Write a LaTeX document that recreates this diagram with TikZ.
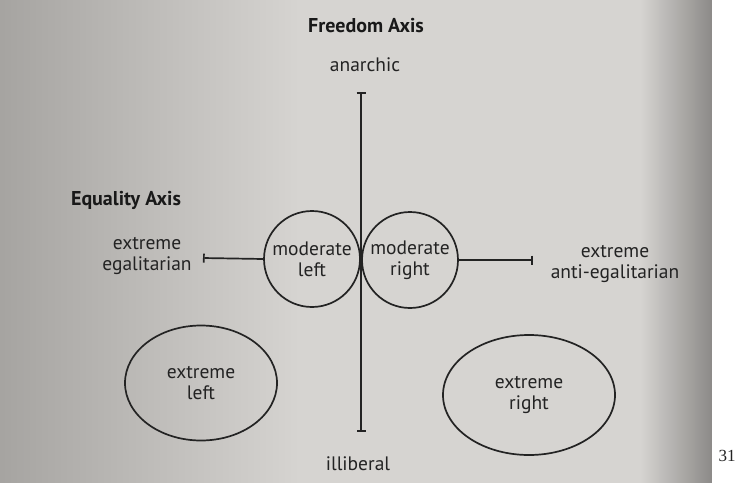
\documentclass[tikz,border=0pt]{standalone}
\usepackage{fontspec}
\setmainfont{PT Sans}
\newfontfamily\pagenumfont{Liberation Serif}
\usepackage{xcolor}
\usetikzlibrary{positioning,shapes.geometric,arrows.meta}

\definecolor{pagedark}{RGB}{165,163,160}
\definecolor{pagelight}{RGB}{214,212,209}
\definecolor{pageedge}{RGB}{140,138,136}
\definecolor{inkline}{RGB}{35,35,35}

\begin{document}
\begin{tikzpicture}[x=1pt,y=-1pt,
  every node/.style={font=\fontsize{19.5}{21}\selectfont,text=inkline,align=center,inner sep=0pt},
  axistitle/.style={font=\fontsize{20}{22}\selectfont\bfseries,text=black!90},
  modcircle/.style={draw=inkline,line width=1.7pt,circle,minimum size=96pt},
  extremeoval/.style={draw=inkline,line width=1.7pt,ellipse},
  axisline/.style={draw=inkline,line width=1.7pt}]
\useasboundingbox (0,0) rectangle (741,482);
% photographed page
\fill[pagelight] (-5,-5) rectangle (712,487);
\shade[left color=pagedark,right color=pagelight] (-5,-5) rectangle (300,487);
\shade[left color=pagelight,right color=pageedge] (640,-5) rectangle (712,487);
\fill[white] (712,-5) rectangle (746,487);
\node[font=\fontsize{17}{19}\pagenumfont] (pagenum) at (727,456) {31};

% freedom axis
\node[axistitle] (freedom) at (366,26) {Freedom Axis};
\node (anarchic) at (365,65) {anarchic};
\node (illiberal) at (358,464) {illiberal};
\coordinate (ftop) at (361,92);
\coordinate (fbot) at (361,432);
\draw[axisline,{Bar[width=9pt]}-{Bar[width=9pt]}] (ftop) -- (fbot);

% equality axis
\node[axistitle] (equality) at (126,200) {Equality Axis};
\node (egal) at (147,256) {extreme\\egalitarian};
\node (antiegal) at (615,264) {extreme\\anti-egalitarian};
\node[modcircle] (modleft) at (312,259) {moderate\\left};
\node[modcircle] (modright) at (410,260) {moderate\\right};
\coordinate (eleft) at (203,258);
\coordinate (eright) at (533,260);
\draw[axisline,{Bar[width=9pt]}-] (eleft) -- (modleft.west);
\draw[axisline,-{Bar[width=9pt]}] (modright.east) -- (eright);

% extremes
\node[extremeoval,minimum width=152pt,minimum height=115pt] (extleft) at (201,383) {extreme\\left};
\node[extremeoval,minimum width=172pt,minimum height=120pt] (extright) at (529,395) {extreme\\right};
\end{tikzpicture}
\end{document}
